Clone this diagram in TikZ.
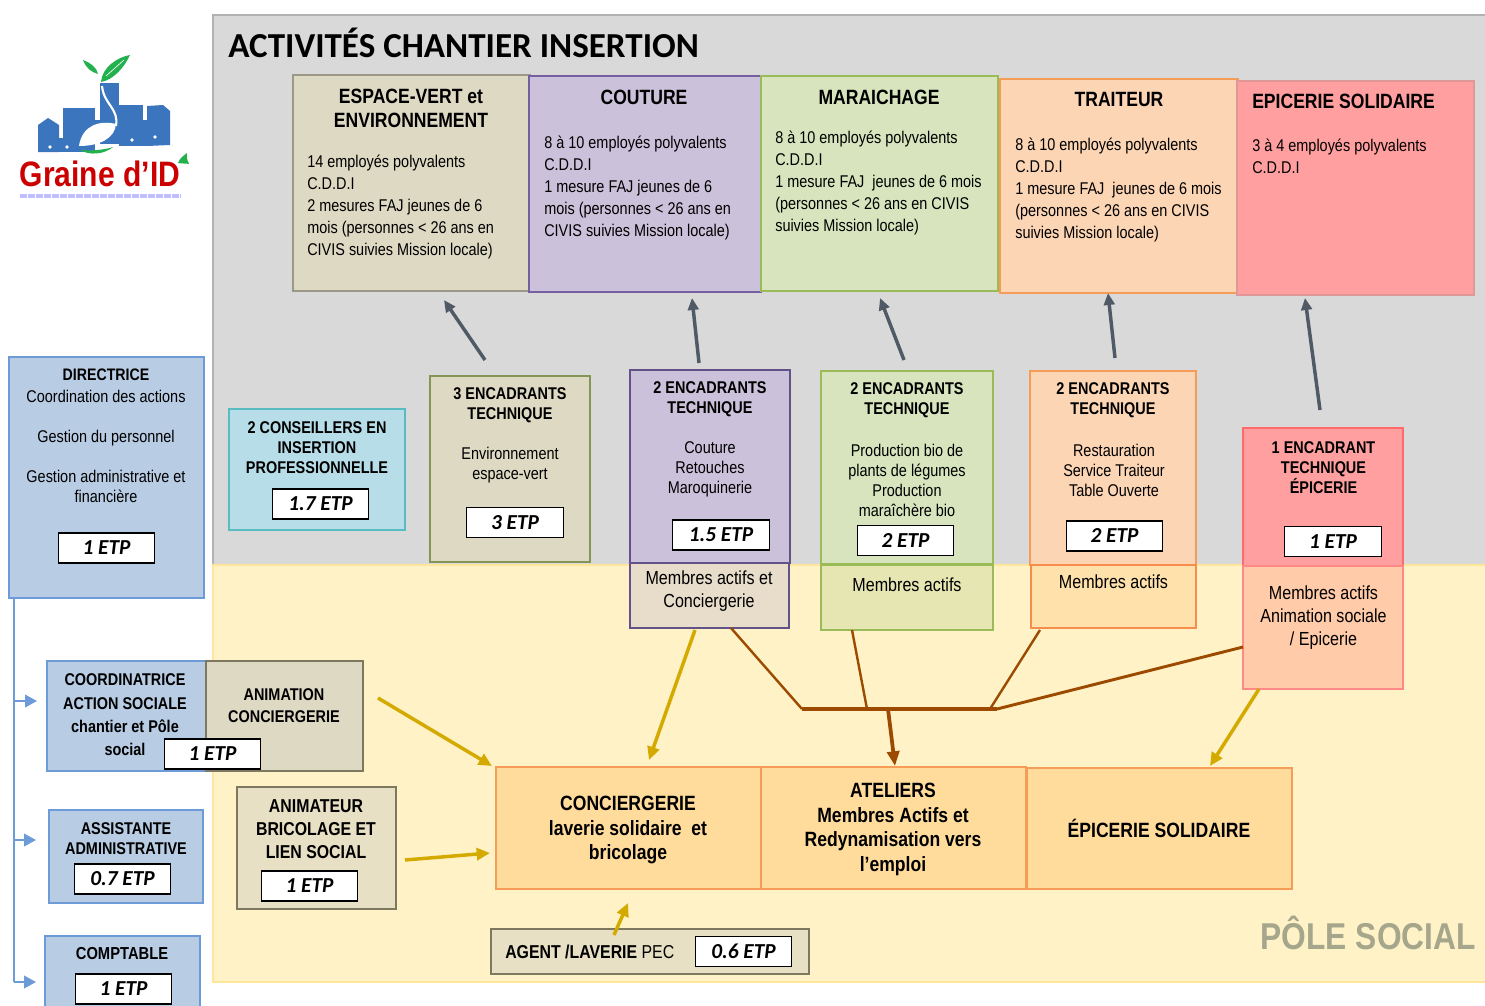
\documentclass[tikz,border=0pt]{standalone}
\usepackage{fontspec}
\setmainfont[FakeStretch=0.85]{Liberation Sans}
\newfontfamily\carlito{Carlito}
\usetikzlibrary{arrows.meta,fit}

\definecolor{fondgris}{HTML}{D9D9D9}
\definecolor{fondjaune}{HTML}{FFF2C6}
\definecolor{bordjaune}{HTML}{FFE699}
\definecolor{beige}{HTML}{DDD9C3}
\definecolor{mauve}{HTML}{CCC1DA}
\definecolor{vert}{HTML}{D7E4BD}
\definecolor{peche}{HTML}{FCD5B5}
\definecolor{rose}{HTML}{FF9F9F}
\definecolor{bleu}{HTML}{B8CCE4}
\definecolor{bordbleu}{HTML}{6C9BD8}
\definecolor{ciel}{HTML}{B7DEE8}
\definecolor{bordorange}{HTML}{F59D56}
\definecolor{bordtaupe}{HTML}{7F7860}
\definecolor{bordmauve}{HTML}{7460A0}
\definecolor{bordvert}{HTML}{9BBB59}
\definecolor{bordrouge}{HTML}{FF6B6B}
\definecolor{orangeclair}{HTML}{FFDC9C}
\definecolor{or}{HTML}{D4A900}
\definecolor{brun}{HTML}{9C4A00}
\definecolor{ardoise}{HTML}{505A66}
\definecolor{ville}{HTML}{3A75BE}
\definecolor{feuille}{HTML}{22B14C}
\definecolor{sable}{HTML}{E8DDCB}
\definecolor{saumon}{HTML}{FFCBA8}
\definecolor{anis}{HTML}{E6E6B3}
\definecolor{grispole}{HTML}{A6A68C}

\tikzset{
	boite/.style={draw,line width=1.1pt,inner sep=0pt},
	etp/.style={draw=black,fill=white,line width=0.9pt,inner sep=0pt,minimum width=72.5pt,minimum height=22.5pt,font=\carlito\bfseries\itshape\fontsize{16}{18}\selectfont},
	titre/.style={inner sep=0pt,align=center,font=\bfseries\fontsize{15.5}{18}\selectfont},
	chef/.style={inner sep=0pt,align=center,font=\bfseries\fontsize{12.75}{15}\selectfont},
	lieu/.style={inner sep=0pt,align=center,font=\bfseries\fontsize{15.5}{18.4}\selectfont},
	corps/.style={inner sep=0pt,align=left,anchor=north west,font=\fontsize{12.75}{16.5}\selectfont},
	milieu/.style={inner sep=0pt,align=center,font=\fontsize{12.75}{15}\selectfont},
	membres/.style={inner sep=0pt,align=center,font=\fontsize{14.2}{17.3}\selectfont},
	montee/.style={draw=ardoise,line width=2.6pt,-{Triangle[length=9pt,width=8pt]}},
	dore/.style={draw=or,line width=2.6pt,-{Triangle[length=10pt,width=9pt]}},
	lien/.style={draw=brun,line width=1.8pt},
	rameau/.style={draw=bordbleu,line width=1.3pt,-{Triangle[length=9pt,width=9.5pt]}}
}

% boite : nom, x1, y1, x2, y2, couleurs
\newcommand{\boite}[6]{\draw node[boite,#6,fit={(#2,#3)(#4,#5)}] (#1) {};}

\begin{document}
\begin{tikzpicture}[x=0.75pt,y=-0.75pt]
	\clip (0,0) rectangle (1485,1006);
	\fill[white] (0,0) rectangle (1485,1006);

	% les deux fonds
	\boite{fond}{213}{15}{1490}{565}{fill=fondgris,draw=gray!60}
	\boite{pole}{213}{565}{1490}{982}{fill=fondjaune,draw=bordjaune}
	\draw (228,43) node[anchor=west,inner sep=0pt,font=\carlito\bfseries\fontsize{26.3}{28}\selectfont] (activites) {ACTIVITÉS CHANTIER INSERTION};
	\draw (1476,933) node[anchor=east,inner sep=0pt,text=grispole,font=\bfseries\fontsize{28}{32}\selectfont] (polesocial) {PÔLE SOCIAL};

	% logo
	\fill[ville] (38,152) -- (38,125) -- (48,118) -- (59,125) -- (59,152) -- cycle;
	\fill[ville] (63,108) rectangle (95,152);
	\fill[ville] (38,138) rectangle (84,152);
	\fill[ville] (95,120) rectangle (100,140);
	\fill[ville] (100,83) rectangle (119,144);
	\fill[ville] (119,105) rectangle (143,146);
	\fill[ville] (147,146) -- (147,106) -- (163,105) -- (170,111) -- (170,145) -- cycle;
	\fill[ville] (140,120) rectangle (150,146);
	\foreach \px/\py in {50/147,67/147,132/140,155/137}
		\fill[white] (\px,\py) circle (1.8);
	\fill[white] (79,146) .. controls (82,125) and (100,120) .. (116,124) .. controls (115,138) and (100,146) .. (79,146) -- cycle;
	\draw[white,line width=1.6pt] (102,86) .. controls (104,105) and (119,108) .. (116,126);
	\fill[feuille] (83,60) .. controls (91,63) and (97,68) .. (98,74) .. controls (91,72) and (86,68) .. (83,60) -- cycle;
	\fill[feuille] (130,55) .. controls (118,57) and (102,67) .. (101,82) .. controls (113,80) and (124,68) .. (130,55) -- cycle;
	\draw[white,line width=0.5pt] (106,76) -- (124,60);
	\fill[feuille] (80,150) .. controls (90,156) and (105,154) .. (113,147) .. controls (105,150) and (90,151) .. (80,150) -- cycle;
	\fill[feuille] (178,163) .. controls (180,158) and (183,156) .. (187,153) .. controls (186,160) and (189,163) .. (189,164) .. controls (185,163) and (182,164) .. (178,163) -- cycle;
	\draw (100,174) node[inner sep=0pt,text=red!80!black,font=\bfseries\fontsize{26.5}{28}\selectfont] (graine) {Graine d'ID};
	\draw[blue!25!white,line width=2.5pt,dash pattern=on 5pt off 1pt] (20,196) -- (181,196);

	% les activites
	\boite{espace}{293}{75}{530}{291}{fill=beige,draw=beige!70!black}
	\boite{couture}{529}{76}{761}{292}{fill=mauve,draw=bordmauve}
	\boite{maraichage}{761}{76}{998}{291}{fill=vert,draw=bordvert}
	\boite{traiteur}{1000}{79}{1238}{293}{fill=peche,draw=bordorange}
	\boite{epicerie}{1237}{81}{1474}{295}{fill=rose,draw=rose!75!gray}

	\draw (411,108) node[titre] (espacet) {ESPACE-VERT et\\ENVIRONNEMENT};
	\draw (307,155) node[corps] (espacec) {14 employés polyvalents\\C.D.D.I\\2 mesures FAJ jeunes de 6\\mois (personnes < 26 ans en\\CIVIS suivies Mission locale)};
	\draw (644,97) node[titre] (couturet) {COUTURE};
	\draw (544,136) node[corps] (couturec) {8 à 10 employés polyvalents\\C.D.D.I\\1 mesure FAJ jeunes de 6\\mois (personnes < 26 ans en\\CIVIS suivies Mission locale)};
	\draw (879,97) node[titre] (maraichaget) {MARAICHAGE};
	\draw (775,131) node[corps] (maraichagec) {8 à 10 employés polyvalents\\C.D.D.I\\1 mesure FAJ\ \ jeunes de 6 mois\\(personnes < 26 ans en CIVIS\\suivies Mission locale)};
	\draw (1119,99) node[titre] (traiteurt) {TRAITEUR};
	\draw (1015,138) node[corps] (traiteurc) {8 à 10 employés polyvalents\\C.D.D.I\\1 mesure FAJ\ \ jeunes de 6 mois\\(personnes < 26 ans en CIVIS\\suivies Mission locale)};
	\draw (1252,101) node[titre,anchor=west] (epiceriet) {EPICERIE SOLIDAIRE};
	\draw (1252,139) node[corps] (epiceriec) {3 à 4 employés polyvalents\\C.D.D.I};

	% les encadrants
	\boite{conseillers}{229}{409}{405}{530}{fill=ciel,draw=ciel!60!cyan!80!black}
	\boite{enctrois}{430}{376}{590}{562}{fill=beige,draw=olive!60!green!50!gray}
	\boite{enccouture}{630}{370}{790}{563}{fill=mauve,draw=bordmauve!85!black}
	\boite{encmaraichage}{821}{371}{993}{564}{fill=vert,draw=bordvert}
	\boite{enctraiteur}{1030}{371}{1196}{565}{fill=peche,draw=bordorange}
	\boite{encepicerie}{1243}{428}{1403}{566}{fill=rose,draw=bordrouge}

	\draw (317,448) node[chef] (conseillerst) {2 CONSEILLERS EN\\INSERTION\\PROFESSIONNELLE};
	\draw (510,405.5) node[chef] (enctroist) {3 ENCADRANTS\\TECHNIQUE};
	\draw (510,465) node[milieu] (enctroisc) {Environnement\\espace-vert};
	\draw (710,399) node[chef] (enccouturet) {2 ENCADRANTS\\TECHNIQUE};
	\draw (710,469) node[milieu] (enccouturec) {Couture\\Retouches\\Maroquinerie};
	\draw (907,400) node[chef] (encmaraichaget) {2 ENCADRANTS\\TECHNIQUE};
	\draw (907,480) node[milieu] (encmaraichagec) {Production bio de\\plants de légumes\\Production\\maraîchère bio};
	\draw (1113,400) node[chef] (enctraiteurt) {2 ENCADRANTS\\TECHNIQUE};
	\draw (1114,470) node[milieu] (enctraiteurc) {Restauration\\Service Traiteur\\Table Ouverte};
	\draw (1323.5,467.5) node[chef] (encepiceriet) {1 ENCADRANT\\TECHNIQUE\\ÉPICERIE};

	\draw (320.5,504) node[etp] (etpconseillers) {1.7 ETP};
	\draw (515,522.5) node[etp] (etptrois) {3 ETP};
	\draw (721,535) node[etp] (etpcouture) {1.5 ETP};
	\draw (905.5,540.5) node[etp] (etpmaraichage) {2 ETP};
	\draw (1114.5,536) node[etp] (etptraiteur) {2 ETP};
	\draw (1333,541.5) node[etp] (etpepicerie) {1 ETP};

	% les membres
	\boite{membrescouture}{630}{563}{789}{628}{fill=sable,draw=bordmauve!85!black}
	\boite{membresmaraichage}{821}{565}{993}{630}{fill=anis,draw=bordvert}
	\boite{membrestraiteur}{1031}{565}{1196}{628}{fill=orangeclair!85!white,draw=bordorange!90!red}
	\boite{membresepicerie}{1243}{566}{1403}{689}{fill=saumon,draw=bordrouge!80!white}
	\draw (709,591) node[membres] (membrescouturec) {Membres actifs et\\Conciergerie};
	\draw (907,585) node[membres] (membresmaraichagec) {Membres actifs};
	\draw (1113.5,582) node[membres] (membrestraiteurc) {Membres actifs};
	\draw (1323.5,618) node[membres] (membresepiceriec) {Membres actifs\\Animation sociale\\/ Epicerie};

	% colonne de gauche
	\draw[draw=bordbleu,line width=1.3pt] (14,598) -- (14,982);
	\boite{directrice}{9}{357}{204}{598}{fill=bleu,draw=bordbleu}
	\boite{coordinatrice}{47}{661}{206}{771}{fill=bleu,draw=bordbleu}
	\boite{animation}{206}{661}{363}{771}{fill=beige,draw=bordtaupe}
	\boite{assistante}{49}{810}{203}{903}{fill=bleu,draw=bordbleu}
	\boite{comptable}{45}{936}{200}{1012}{fill=bleu,draw=bordbleu}
	\boite{animateur}{237}{787}{396}{909}{fill=beige!70!fondjaune,draw=bordtaupe}

	\draw (106,375) node[chef,font=\bfseries\fontsize{12.5}{15}\selectfont] (directricet) {DIRECTRICE};
	\draw (106,446) node[milieu] (directricec) {Coordination des actions\\[15pt]Gestion du personnel\\[15pt]Gestion administrative et\\financière};
	\draw (125,715) node[chef,font=\bfseries\fontsize{12.75}{17.5}\selectfont] (coordinatricet) {COORDINATRICE\\ACTION SOCIALE\\chantier et Pôle\\social};
	\draw (284,706) node[chef,font=\bfseries\fontsize{12.75}{16.5}\selectfont] (animationt) {ANIMATION\\CONCIERGERIE};
	\draw (126,839) node[chef,font=\bfseries\fontsize{12.75}{15}\selectfont] (assistantet) {ASSISTANTE\\ADMINISTRATIVE};
	\draw (122,954) node[chef,font=\bfseries\fontsize{13}{15}\selectfont] (comptablet) {COMPTABLE};
	\draw (316,829) node[chef,font=\bfseries\fontsize{14}{17}\selectfont] (animateurt) {ANIMATEUR\\BRICOLAGE ET\\LIEN SOCIAL};

	\draw (106.5,548) node[etp] (etpdirectrice) {1 ETP};
	\draw (212.5,754) node[etp] (etpcoordinatrice) {1 ETP};
	\draw (122.5,879) node[etp] (etpassistante) {0.7 ETP};
	\draw (123.5,989) node[etp] (etpcomptable) {1 ETP};
	\draw (309.5,886) node[etp] (etpanimateur) {1 ETP};

	% les lieux
	\boite{conciergerie}{496}{767}{761}{889}{fill=orangeclair,draw=bordorange}
	\boite{ateliers}{761}{767}{1026}{889}{fill=orangeclair,draw=bordorange}
	\boite{solidaire}{1027}{768}{1292}{889}{fill=orangeclair,draw=bordorange}
	\boite{agent}{491}{929}{809}{974}{fill=beige!70!fondjaune,draw=bordtaupe}
	\draw (628,830) node[lieu] (conciergeriet) {CONCIERGERIE\\laverie solidaire\ \ et\\bricolage};
	\draw (893,829.5) node[lieu] (ateliert) {ATELIERS\\Membres Actifs et\\Redynamisation vers\\l’emploi};
	\draw (1159,828) node[lieu] (solidairet) {ÉPICERIE SOLIDAIRE};
	\draw (505,951.5) node[anchor=west,inner sep=0pt,font=\fontsize{14}{16}\selectfont] (agentt) {\textbf{AGENT /LAVERIE} PEC};
	\draw (743.5,951.5) node[etp] (etpagent) {0.6 ETP};

	% departs et arrivees des fleches
	\coordinate (m1) at (485,360);
	\coordinate (a1) at (444,300);
	\coordinate (m2) at (699,363);
	\coordinate (a2) at (692,298);
	\coordinate (m3) at (904,360);
	\coordinate (a3) at (880,298);
	\coordinate (m4) at (1115,358);
	\coordinate (a4) at (1108,293);
	\coordinate (m5) at (1320,410);
	\coordinate (a5) at (1305,298);
	\draw[montee] (m1) -- (a1);
	\draw[montee] (m2) -- (a2);
	\draw[montee] (m3) -- (a3);
	\draw[montee] (m4) -- (a4);
	\draw[montee] (m5) -- (a5);

	\coordinate (d1) at (378,698);
	\coordinate (f1) at (492,766);
	\coordinate (d2) at (405,860);
	\coordinate (f2) at (490,853);
	\coordinate (d3) at (695,630);
	\coordinate (f3) at (649,760);
	\coordinate (d4) at (1259,689);
	\coordinate (f4) at (1210,766);
	\coordinate (d5) at (614,935);
	\coordinate (f5) at (628,903);
	\draw[dore] (d1) -- (f1);
	\draw[dore] (d2) -- (f2);
	\draw[dore] (d3) -- (f3);
	\draw[dore] (d4) -- (f4);
	\draw[dore] (d5) -- (f5);

	\coordinate (l1) at (731,628);
	\coordinate (l2) at (852,630);
	\coordinate (l3) at (1040,630);
	\coordinate (l4) at (1243,647);
	\coordinate (b1) at (802,709);
	\coordinate (b2) at (867,709);
	\coordinate (b3) at (990,709);
	\coordinate (b4) at (997,709);
	\coordinate (b5) at (888,709);
	\coordinate (f6) at (895,766);
	\draw[lien] (l1) -- (b1);
	\draw[lien] (l2) -- (b2);
	\draw[lien] (l3) -- (b3);
	\draw[lien,line width=2.2pt] (l4) -- (b4);
	\draw[lien,line width=2.5pt] (b1) -- (b4);
	\draw[lien,line width=2.8pt,-{Triangle[length=11pt,width=9pt]}] (b5) -- (f6);

	\coordinate (r1) at (14,701);
	\coordinate (r2) at (14,840);
	\coordinate (r3) at (14,982);
	\coordinate (p1) at (37,701);
	\coordinate (p2) at (36,840);
	\coordinate (p3) at (36,982);
	\draw[rameau] (r1) -- (p1);
	\draw[rameau] (r2) -- (p2);
	\draw[rameau] (r3) -- (p3);
\end{tikzpicture}
\end{document}
